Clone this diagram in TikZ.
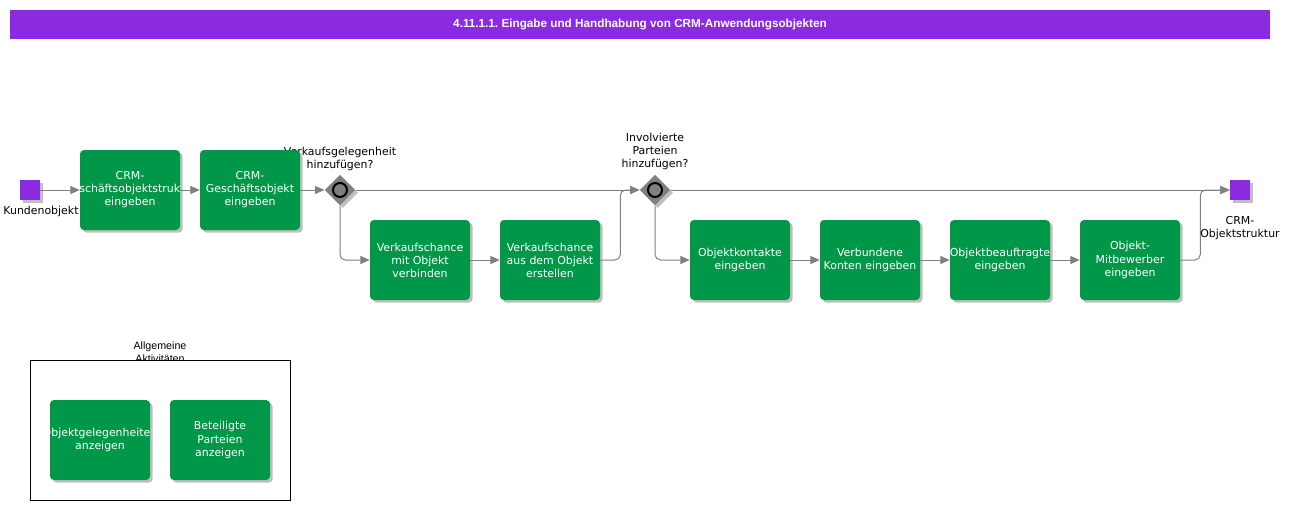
\documentclass[tikz,border=0pt]{standalone}
\usepackage{fontspec}
\setmainfont{DejaVu Sans}
\newfontfamily\arialfont{Liberation Sans}
\usetikzlibrary{positioning,shapes.geometric,arrows.meta,shadows}
\definecolor{bpmviolet}{RGB}{138,43,226}
\definecolor{bpmgreen}{RGB}{0,152,72}
\definecolor{bpmgray}{RGB}{128,128,128}
\newcommand{\tasktext}{\fontsize{8.2}{9.8}\selectfont}
\frenchspacing

\begin{document}
\begin{tikzpicture}[x=0.75pt,y=-0.75pt,
        >={Triangle[length=7pt,width=6pt]},
        shade box/.style={drop shadow={shadow xshift=2pt,shadow yshift=-2pt,fill=black,opacity=0.25}},
        task/.style={rectangle,rounded corners=3pt,fill=bpmgreen,minimum width=75pt,
            minimum height=60pt,inner sep=1pt,text=white,align=center,font=\tasktext,shade box},
        cut/.style={path picture={\node[text=white,align=center,font=\tasktext]
            at (path picture bounding box.center) {#1};}},
        event/.style={rectangle,fill=bpmviolet,minimum size=15pt,inner sep=0pt,shade box},
        gate/.style={diamond,fill=bpmgray,minimum size=23pt,inner sep=0pt,shade box},
        ring/.style={circle,draw=black,line width=1.5pt,fill=black!50,minimum size=10.5pt,inner sep=0pt},
        flow/.style={->,draw=bpmgray,line width=0.75pt,rounded corners=4pt},
        lbl/.style={align=center,font=\tasktext,inner sep=0pt}]

        \useasboundingbox (0,0) rectangle (1293,510);

        % Title bar
        \node[fill=bpmviolet,minimum width=945pt,minimum height=21.75pt,inner sep=0pt,
            text=white,font=\arialfont\bfseries\fontsize{8.8}{10}\selectfont]
            (title) at (640,24.5) {4.11.1.1. Eingabe und Handhabung von CRM-Anwendungsobjekten};

        % Define events and gateways
        \node[event] (start) at (30,190) {};
        \node[lbl] (startlbl) at (41,211) {Kundenobjekt};
        \node[gate] (g1) at (340,190) {};
        \node[ring] at (g1) {};
        \node[lbl] (g1lbl) at (340,159) {Verkaufsgelegenheit\\hinzufügen?};
        \node[gate] (g2) at (655,190) {};
        \node[ring] at (g2) {};
        \node[lbl] (g2lbl) at (655,151.5) {Involvierte\\Parteien\\hinzufügen?};
        \node[event] (end) at (1240,190) {};
        \node[lbl] (endlbl) at (1240,228.5) {CRM-\\Objektstruktur};

        % Define tasks
        \node[task,cut={CRM-\\Geschäftsobjektstruktur\\eingeben}] (t1) at (130,190) {};
        \node[task] (t2) at (250,190) {CRM-\\Geschäftsobjekt\\eingeben};
        \node[task] (t3) at (420,260) {Verkaufschance\\mit Objekt\\verbinden};
        \node[task] (t4) at (550,260) {Verkaufschance\\aus dem Objekt\\erstellen};
        \node[task] (t5) at (740,260) {Objektkontakte\\eingeben};
        \node[task] (t6) at (870,260) {Verbundene\\Konten eingeben};
        \node[task,cut={Objektbeauftragte\\eingeben}] (t7) at (1000,260) {};
        \node[task] (t8) at (1130,260) {Objekt-\\Mitbewerber\\eingeben};

        % Draw edges
        \draw[flow] (start) -- (t1);
        \draw[flow] (t1) -- (t2);
        \draw[flow] (t2) -- (g1);
        \draw[flow] (g1) -- (g2);
        \draw[flow] (g1.south) |- (t3);
        \draw[flow] (t3) -- (t4);
        \draw[flow] (t4.east) -- ++(20,0) |- (g2.west);
        \draw[flow] (g2) -- (end);
        \draw[flow] (g2.south) |- (t5);
        \draw[flow] (t5) -- (t6);
        \draw[flow] (t6) -- (t7);
        \draw[flow] (t7) -- (t8);
        \draw[flow] (t8.east) -- ++(20,0) |- (end.west);

        % General activities
        \node[align=center,inner sep=0pt,font=\arialfont\fontsize{8}{9.6}\selectfont]
            (grplbl) at (160,352) {Allgemeine\\Aktivitäten};
        \node[draw=black,fill=white,line width=0.75pt,minimum width=195pt,minimum height=105pt,
            inner sep=0pt] (grp) at (160,430) {};
        \node[task,cut={Objektgelegenheiten\\anzeigen}] (a1) at (100,440) {};
        \node[task] (a2) at (220,440) {Beteiligte\\Parteien\\anzeigen};

\end{tikzpicture}
\end{document}
